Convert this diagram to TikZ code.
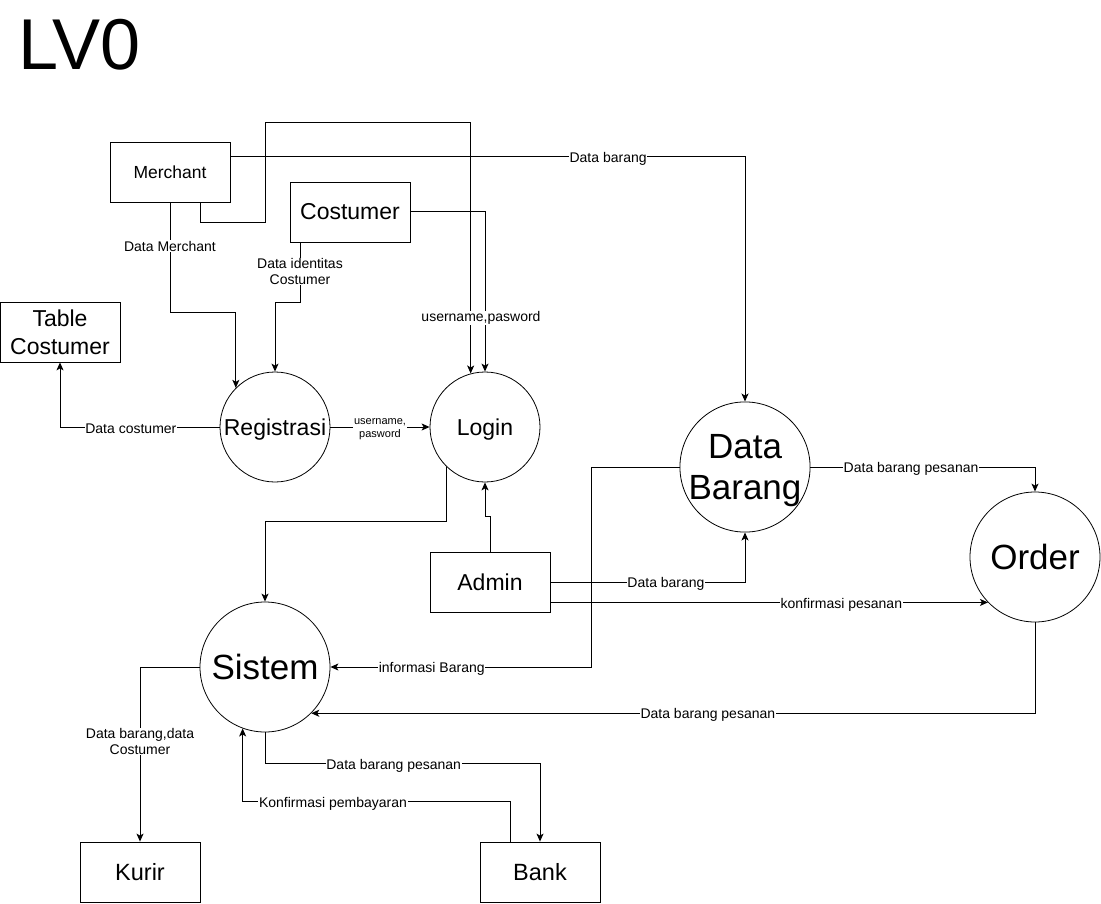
\documentclass[tikz,border=0pt]{standalone}
\usepackage{fontspec}
\setmainfont{Liberation Sans}
\usetikzlibrary{arrows.meta}

\tikzset{
  proc/.style={draw, circle, minimum size=110pt, inner sep=0pt, text depth=0pt, line width=0.8pt, font=\fontsize{23}{27}\selectfont},
  bigproc/.style={proc, minimum size=130pt, align=center, font=\fontsize{35}{41}\selectfont},
  entity/.style={draw, rectangle, minimum width=120pt, minimum height=60pt, inner sep=0pt, line width=0.8pt, align=center, font=\fontsize{23}{28}\selectfont},
  flow/.style={-{Stealth[length=8pt,width=7pt,inset=2pt]}, line width=1pt},
  lbl/.style={fill=white, inner sep=0.6pt, yshift=-2pt, align=center, font=\fontsize{14}{16}\selectfont},
  tinylbl/.style={lbl, font=\fontsize{11}{12.5}\selectfont},
}

\begin{document}
\begin{tikzpicture}[x=1pt, y=-1pt]
\useasboundingbox (0,0) rectangle (1101,904);

% title
\node[anchor=base west, inner sep=0pt, font=\fontsize{72}{80}\selectfont] (title) at (18,70) {LV0};

% external entities
\node[entity, font=\fontsize{17.5}{21}\selectfont] (mer) at (170,172) {Merchant};
\node[entity] (cos) at (350,212) {Costumer};
\node[entity] (tab) at (60,332) {Table\\Costumer};
\node[entity] (adm) at (490,582) {Admin};
\node[entity, font=\fontsize{23.5}{28}\selectfont] (kur) at (140,872) {Kurir};
\node[entity, font=\fontsize{23.5}{28}\selectfont] (bank) at (540,872) {Bank};

% processes
\node[proc] (reg) at (275,427) {Registrasi};
\node[proc] (login) at (485,427) {Login};
\node[bigproc] (db) at (745,467) {Data\\Barang};
\node[bigproc] (ord) at (1035,557) {Order};
\node[bigproc] (sis) at (265,667) {Sistem};

% flows
\draw[flow] (mer.south) -- node[lbl, pos=.38]{Data Merchant} ++(0,110) -| (reg.135);
\draw[flow] ([xshift=30pt]mer.south) -- ++(0,20) -- ++(65,0) -- ++(0,-100) -| (login.105);
\draw[flow] ([yshift=15pt]mer.east) -| node[lbl, pos=.367]{Data barang} (db.north);
\draw[flow] ([xshift=-50pt]cos.south) -- node[lbl, pos=.45]{Data identitas\\Costumer} ++(0,60) -| (reg.north);
\draw[flow] (cos.east) -| node[lbl, pos=.825, xshift=-4pt]{username,pasword} (login.north);
\draw[flow] (reg.west) -| node[lbl, pos=.278]{Data costumer} (tab.south);
\draw[flow] (reg.east) -- node[tinylbl]{username,\\pasword} (login.west);
\draw[flow] (login.-134) -- ++(0,55) -| (sis.north);
\draw[flow] (adm.north) -- ++(0,-35) -| (login.south);
\draw[flow] (adm.east) -| node[lbl, pos=.297]{Data barang} (db.south);
\draw[flow] (adm.east |- ord.-136) -- node[lbl, pos=.665]{konfirmasi pesanan} (ord.-136);
\draw[flow] (db.west) -- ++(-88,0) |- node[lbl, pos=.806]{informasi Barang} (sis.east);
\draw[flow] (db.east) -| node[lbl, pos=.224]{Data barang pesanan} (ord.north);
\draw[flow] (ord.south) |- node[lbl, pos=.726]{Data barang pesanan} (sis.-45);
\draw[flow] (sis.west) -| node[lbl, pos=.708]{Data barang,data\\Costumer} (kur.north);
\draw[flow] (sis.south) -- ++(0,31) -| node[lbl, pos=.234]{Data barang pesanan} (bank.north);
\draw[flow] ([xshift=-30pt]bank.north) -- ++(0,-40) -| node[lbl, pos=.331]{Konfirmasi pembayaran} (sis.-110);
\end{tikzpicture}
\end{document}
